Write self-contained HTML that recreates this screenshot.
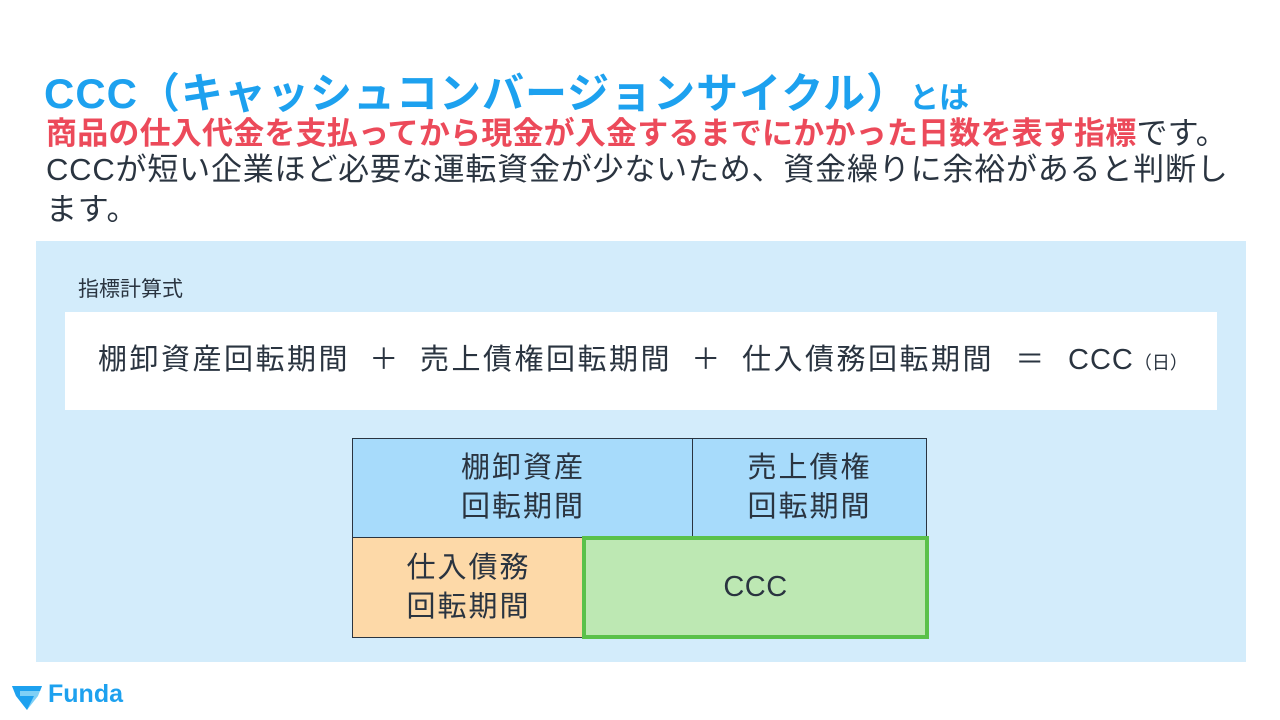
<!DOCTYPE html>
<html><head><meta charset="utf-8"><style>
body{margin:0;width:1280px;height:720px;background:#fff;position:relative;overflow:hidden;font-family:"Liberation Sans","Noto Sans CJK JP",sans-serif;color:#2a3440}
.a{position:absolute;white-space:nowrap}
.cell{position:absolute;box-sizing:border-box;border:1.5px solid #2a3440;display:flex;align-items:center;justify-content:center;text-align:center;font-size:29px;letter-spacing:2px;line-height:39px}
.op{display:inline-block;width:70px;text-align:center}
</style></head><body>
<div class="a" style="left:44px;top:60px;font-size:42px;letter-spacing:1px;font-weight:bold;color:#1da1ef">CCC（キャッシュコンバージョンサイクル）<span style="font-size:30px;letter-spacing:0">とは</span></div>
<div class="a" style="left:46px;top:114px;font-size:31px;line-height:40px;letter-spacing:0.2px;font-weight:bold;color:#ec4a5a">商品の仕入代金を支払ってから現金が入金するまでにかかった日数を表す指標<span style="font-weight:normal;color:#2a3440">です。</span></div>
<div class="a" style="left:46px;top:150px;font-size:31px;line-height:40px;letter-spacing:0.8px">CCCが短い企業ほど必要な運転資金が少ないため、資金繰りに余裕があると判断し<br>ます。</div>
<div class="a" style="left:36px;top:241px;width:1210px;height:421px;background:#d3ecfb"></div>
<div class="a" style="left:78px;top:273px;font-size:21px">指標計算式</div>
<div class="a" style="left:65px;top:312px;width:1152px;height:98px;background:#fff"></div>
<div class="a" style="left:98px;top:342px;font-size:29px;line-height:36px;letter-spacing:2.5px">棚卸資産回転期間<span class="op">＋</span>売上債権回転期間<span class="op">＋</span>仕入債務回転期間<span class="op" style="width:74px">＝</span><span style="letter-spacing:1px">CCC</span><span style="font-size:18px;letter-spacing:0">（日）</span></div>
<div class="cell" style="left:352px;top:438px;width:342px;height:100px;background:#a7dbfb">棚卸資産<br>回転期間</div>
<div class="cell" style="left:692px;top:438px;width:235px;height:100px;background:#a7dbfb">売上債権<br>回転期間</div>
<div class="cell" style="left:352px;top:537px;width:233px;height:101px;background:#fdd9a8">仕入債務<br>回転期間</div>
<div class="cell" style="left:582px;top:536px;width:347px;height:103px;background:#bde8b3;border:4px solid #5ac14a;letter-spacing:0.5px">CCC</div>
<svg class="a" style="left:10px;top:682px" width="34" height="30" viewBox="0 0 34 30"><path d="M2 4 L32 4 L28 14 L17 28 L6 14 Z" fill="#7fd0f6"/><path d="M2 4 L32 4 L30 9 L10 9 L10 14 L24 14 L17 28 L6 14 Z" fill="#1da1ef"/></svg>
<div class="a" style="left:48px;top:680px;font-size:25px;font-weight:bold;color:#1da1ef">Funda</div>
</body></html>
